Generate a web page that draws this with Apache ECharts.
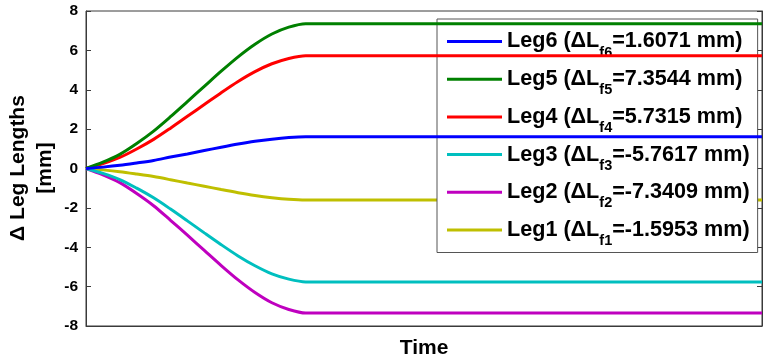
<!DOCTYPE html>
<html>
<head>
<meta charset="utf-8">
<script src="https://cdn.jsdelivr.net/npm/echarts@6/dist/echarts.min.js"></script>
<style>
  html, body { margin: 0; padding: 0; background: #fff; }
  #chart { width: 763px; height: 359px; }
</style>
</head>
<body>
<div id="chart"></div>
<script>
// Sample times (arbitrary units) and leg length changes in mm
const time = [0, 0.25, 0.5, 0.75, 1.0, 1.25, 1.5, 1.75, 2.0, 2.25, 2.5, 2.75, 3.0, 3.25, 10];
const leg6 = [0, 0.07, 0.16, 0.28, 0.41, 0.58, 0.74, 0.91, 1.08, 1.24, 1.38, 1.49, 1.57, 1.6071, 1.6071];
const leg5 = [0, 0.32, 0.72, 1.27, 1.90, 2.63, 3.40, 4.17, 4.94, 5.67, 6.31, 6.83, 7.18, 7.3544, 7.3544];
const leg4 = [0, 0.25, 0.56, 0.99, 1.48, 2.05, 2.65, 3.25, 3.85, 4.42, 4.92, 5.32, 5.59, 5.7315, 5.7315];
const leg3 = [0, -0.25, -0.56, -1.00, -1.49, -2.06, -2.66, -3.27, -3.87, -4.44, -4.94, -5.35, -5.62, -5.7617, -5.7617];
const leg2 = [0, -0.32, -0.72, -1.27, -1.89, -2.63, -3.39, -4.16, -4.93, -5.66, -6.30, -6.82, -7.16, -7.3409, -7.3409];
const leg1 = [0, -0.07, -0.16, -0.28, -0.41, -0.57, -0.74, -0.90, -1.07, -1.23, -1.37, -1.48, -1.56, -1.5953, -1.5953];

const legNames = ['Leg6', 'Leg5', 'Leg4', 'Leg3', 'Leg2', 'Leg1'];
const legSubs = ['f6', 'f5', 'f4', 'f3', 'f2', 'f1'];
const finalDelta = ['1.6071', '7.3544', '5.7315', '-5.7617', '-7.3409', '-1.5953'];
const legColors = ['#0000ff', '#008000', '#ff0000', '#00bfbf', '#bf00bf', '#bfbf00'];
const legValues = [leg6, leg5, leg4, leg3, leg2, leg1];

const yTicks = [-8, -6, -4, -2, 0, 2, 4, 6, 8];

const FONT = 'Liberation Sans, Arial, Helvetica, sans-serif';
const AXIS_COLOR = '#3a3a3a';

const chart = echarts.init(document.getElementById('chart'), null, { renderer: 'canvas' });

const series = legNames.map((name, i) => ({
  name: name,
  type: 'line',
  data: time.map((t, k) => [t, legValues[i][k]]),
  showSymbol: false,
  symbol: 'none',
  smooth: 0.3,
  lineStyle: { color: legColors[i], width: 3 },
  itemStyle: { color: legColors[i] },
  z: 2 + (legNames.length - i),
  silent: true
}));

const option = {
  animation: false,
  backgroundColor: '#fff',
  grid: {
    left: 86, right: 1, top: 11, bottom: 33,
    outerBoundsMode: 'none',
    containLabel: false,
    show: true, borderColor: AXIS_COLOR, borderWidth: 1, backgroundColor: '#fff'
  },
  xAxis: {
    type: 'value', min: 0, max: 10,
    name: 'Time', nameLocation: 'middle', nameGap: 12,
    nameTextStyle: { fontFamily: FONT, fontWeight: 'bold', fontSize: 21, color: '#000' },
    axisLine: { show: true, onZero: false, lineStyle: { color: AXIS_COLOR, width: 1 } },
    axisTick: { show: false }, axisLabel: { show: false }, splitLine: { show: false }
  },
  yAxis: [{
    type: 'value', min: yTicks[0], max: yTicks[yTicks.length - 1], interval: 2,
    axisLine: { show: true, lineStyle: { color: AXIS_COLOR, width: 1 } },
    axisTick: { show: true, inside: true, length: 5, lineStyle: { color: AXIS_COLOR } },
    axisLabel: { fontFamily: FONT, fontWeight: 'bold', fontSize: 15.5, color: '#000', margin: 8 },
    splitLine: { show: false }
  }, {
    type: 'value', position: 'right', min: yTicks[0], max: yTicks[yTicks.length - 1], interval: 2,
    axisLine: { show: true, lineStyle: { color: AXIS_COLOR, width: 1 } },
    axisTick: { show: true, inside: true, length: 5, lineStyle: { color: AXIS_COLOR } },
    axisLabel: { show: false }, splitLine: { show: false }
  }],
  legend: {
    data: legNames,
    orient: 'vertical',
    left: 437, top: 19,
    padding: [4, 8, 4, 10],
    itemGap: 0.7,
    itemWidth: 55, itemHeight: 3,
    icon: 'rect',
    backgroundColor: '#fff',
    borderColor: '#555', borderWidth: 1,
    selectedMode: false,
    formatter: function (name) {
      const i = legNames.indexOf(name);
      return '{a|' + name + ' (ΔL}{s|' + legSubs[i] + '}{a|=' + finalDelta[i] + ' mm)}';
    },
    textStyle: {
      color: '#000',
      rich: {
        a: { fontFamily: FONT, fontWeight: 'bold', fontSize: 21.6, lineHeight: 26, color: '#000' },
        s: { fontFamily: FONT, fontWeight: 'bold', fontSize: 14.5, lineHeight: 14, padding: [22, 0, 0, 0], color: '#000' }
      }
    }
  },
  graphic: [{
    type: 'text',
    x: 32, y: 168,
    rotation: Math.PI / 2,
    style: {
      text: 'Δ Leg Lengths\n[mm]',
      fontFamily: FONT, fontWeight: 'bold', fontSize: 21,
      lineHeight: 27,
      align: 'center', verticalAlign: 'middle',
      fill: '#000'
    }
  }],
  series: series
};

chart.setOption(option);
</script>
</body>
</html>
